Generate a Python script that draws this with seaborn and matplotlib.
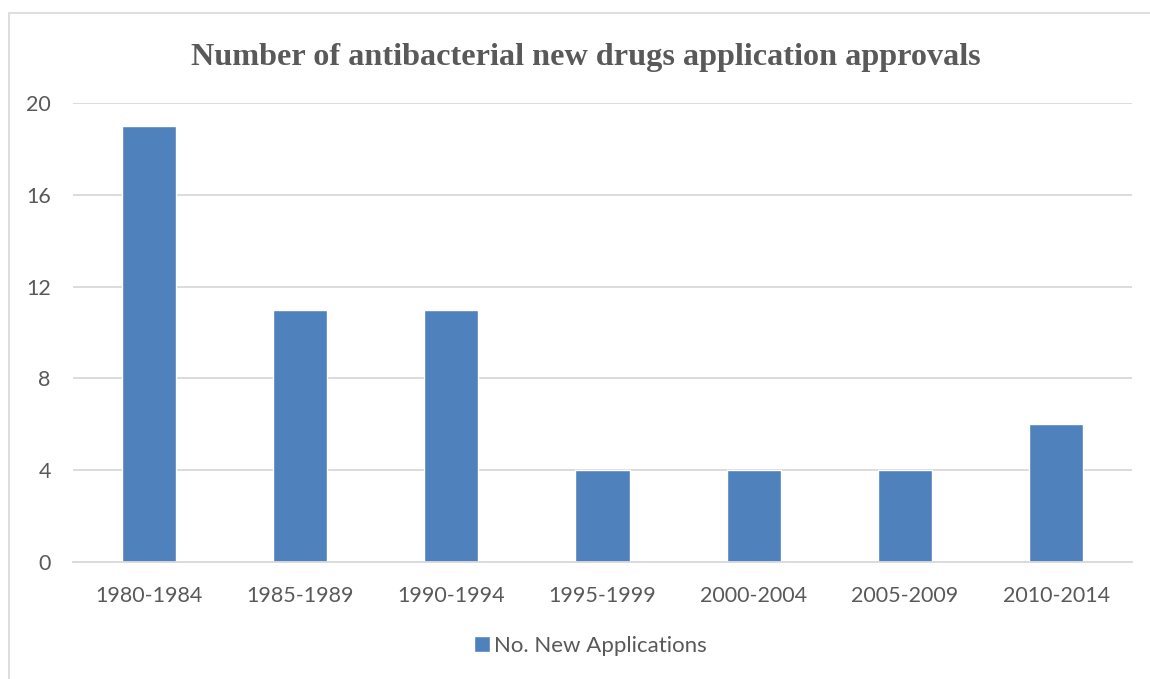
import matplotlib
matplotlib.use("Agg")
import matplotlib.pyplot as plt
import seaborn as sns
import pandas as pd
from matplotlib.patches import Rectangle

periods = ["1980-1984", "1985-1989", "1990-1994", "1995-1999", "2000-2004", "2005-2009", "2010-2014"]
counts = [19, 11, 11, 4, 4, 4, 6]
series_name = "No. New Applications"
title = "Number of antibacterial new drugs application approvals"
yticks = [0, 4, 8, 12, 16, 20]

df = pd.DataFrame({"period": periods, "count": counts})

sns.set_theme(style="white")
plt.rcParams["font.family"] = ["Lato", "DejaVu Sans"]

fig = plt.figure(figsize=(11.5, 6.79), dpi=100)
ax = fig.add_axes([73/1150, 1-562/679, (1132-73)/1150, (562-103)/679])

sns.barplot(data=df, x="period", y="count", color="#4F81BD", saturation=1,
            width=0.357, label=series_name, ax=ax)

ax.set_ylim(0, 20)
ax.set_xlim(-0.5, len(periods)-0.5)
ax.set_yticks(yticks)
ax.set_yticklabels([str(v) for v in yticks])
ax.grid(axis="y", color="#D9D9D9", linewidth=1.3)
ax.set_axisbelow(True)
for s in ["top", "right", "left"]:
    ax.spines[s].set_visible(False)
ax.spines["bottom"].set_color("#D9D9D9")
ax.spines["bottom"].set_linewidth(1.3)
ax.tick_params(axis="y", length=0, pad=16, labelsize=15.5, labelcolor="#595959")
ax.tick_params(axis="x", length=0, pad=17, labelsize=15.5, labelcolor="#595959")
ax.set_xlabel("")
ax.set_ylabel("")
if ax.get_legend():
    ax.get_legend().remove()

fig.text(586/1150, 1-58/679, title, ha="center", va="center",
         family="Liberation Serif", fontweight="bold", fontsize=23.2, color="#595959")

handles, labels = ax.get_legend_handles_labels()
fig.legend(handles, labels, loc="center", bbox_to_anchor=(590/1150, 1-646/679),
           frameon=False, fontsize=16, labelcolor="#595959",
           handlelength=0.75, handleheight=0.75, handletextpad=0.15)

fig.patches.append(Rectangle((9/1150, -0.1), 1.2, 1-13/679+0.1, transform=fig.transFigure,
                             fill=False, edgecolor="#D9D9D9", linewidth=1.2, figure=fig))

fig.savefig("out.png", dpi=100)
